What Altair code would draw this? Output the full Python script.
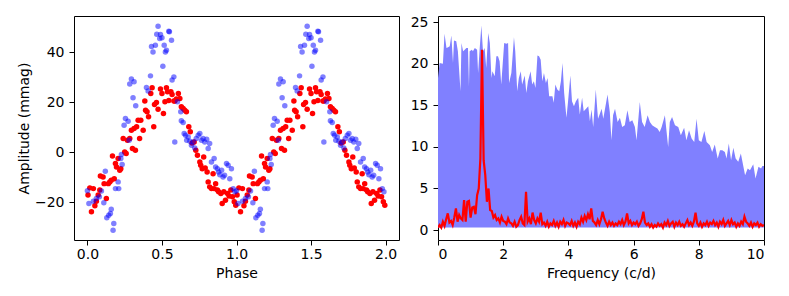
import altair as alt
import pandas as pd

# ---------- left panel: phase-folded light curve (one cycle, repeated) ----------
blue_phase = [0.00, 0.01, 0.04, 0.06, 0.08, 0.094, 0.11, 0.12, 0.13, 0.143, 0.154, 0.16, 0.177, 0.172,
              0.188, 0.206, 0.21, 0.224, 0.233, 0.228, 0.246, 0.255, 0.273, 0.28, 0.284, 0.295, 0.313,
              0.306, 0.324, 0.396, 0.407, 0.423, 0.43, 0.44, 0.456, 0.465, 0.474, 0.485, 0.49, 0.50,
              0.506, 0.515, 0.523, 0.53, 0.546, 0.55, 0.564, 0.568, 0.58, 0.586, 0.604, 0.626, 0.63,
              0.642, 0.649, 0.658, 0.666, 0.676, 0.687, 0.698, 0.709, 0.72, 0.73, 0.743, 0.754, 0.765,
              0.776, 0.787, 0.80, 0.81, 0.82, 0.832, 0.85, 0.86, 0.872, 0.88, 0.888, 0.90, 0.91, 0.92,
              0.933, 0.944, 0.955, 0.966, 0.978, 0.989]
blue_amp = [-15.5, -20.6, -19.7, -18.6, -17.9, -15.6, -20.3, -7.6, -26.3, -25.3, -24.6, -22.9, -28.6, -31.3,
            -14.6, -11.9, -14.6, -2.5, -4.9, -0.9, 10.8, 13.5, 12.4, 4.8, 27.3, 29.3, 28.2,
            21.8, 18.6, 25.9, 24.5, 30.6, 42.4, 40.2, 42.9, 47.3, 50.5, 45.6, 47.2, 45.9,
            34.5, 42.9, 40.2, 40.9, 48.5, 48.3, 44.9, 28.9, 30.2, 4.1, 20.2, 16.2, 12.6,
            11.9, 7.5, 6.8, 4.8, 6.1, 4.4, 2.8, 4.1, 1.7, 5.5, 6.8, 7.5, 4.8,
            5.5, 4.1, 5.2, 1.5, 3.5, -3.9, -2.5, -5.9, -6.6, -7.9, -9.0, -7.2, -9.9, -9.2,
            -4.5, -5.2, -10.6, -6.6, -14.6, -15.9]

red_phase = [0.004, 0.016, 0.027, 0.04, 0.05, 0.06, 0.072, 0.083, 0.087, 0.105, 0.112, 0.127, 0.14, 0.15,
             0.16, 0.168, 0.18, 0.188, 0.195, 0.206, 0.217, 0.224, 0.24, 0.25, 0.26, 0.268, 0.284, 0.295,
             0.302, 0.313, 0.322, 0.33, 0.34, 0.35, 0.358, 0.374, 0.385, 0.39, 0.40, 0.41, 0.425, 0.434,
             0.445, 0.45, 0.463, 0.474, 0.49, 0.50, 0.51, 0.52, 0.53, 0.537, 0.546, 0.56, 0.568, 0.58,
             0.586, 0.597, 0.61, 0.62, 0.63, 0.642, 0.653, 0.664, 0.68, 0.69, 0.702, 0.716, 0.727, 0.738,
             0.754, 0.76, 0.77, 0.78, 0.79, 0.803, 0.81, 0.82, 0.832, 0.843, 0.85, 0.86, 0.872, 0.88,
             0.895, 0.904, 0.915, 0.926, 0.94, 0.95, 0.962, 0.973, 0.985, 0.995]
red_amp = [-17.2, -14.3, -23.9, -14.6, -21.5, -19.7, -17.2, -15.2, -9.5, -9.9, -12.6, -18.6, -12.6, -11.9,
           -11.2, -1.5, -10.6, -4.5, -5.9, -2.5, -7.2, -6.6, 5.5, 0.1, -0.5, 4.8, 5.5, 8.8,
           1.5, 9.5, 0.8, 10.2, 12.8, 5.5, 12.8, 8.8, 20.5, 16.8, 16.2, 14.2, 23.5, 25.8,
           10.2, 19.1, 19.9, 17.2, 25.3, 23.5, 15.5, 20.2, 25.8, 24.2, 20.7, 24.2, 23.1, 20.5,
           20.5, 21.3, 23.5, 21.5, 18.2, 17.5, 16.8, 16.2, 10.2, 8.2, 3.7, 4.1, 0.8, -1.2,
           -3.9, -5.2, -6.6, -1.9, -6.3, -7.9, -11.9, -13.9, -14.6, -8.6, -14.6, -12.6, -15.2, -15.9,
           -16.6, -20.6, -15.9, -19.3, -16.6, -17.6, -15.2, -17.9, -19.9, -21.3]

# ---------- right panel: periodograms ----------
blue_freq = [0.00, 0.05, 0.15, 0.20, 0.26, 0.31, 0.36, 0.41, 0.46, 0.49, 0.56, 0.61, 0.63, 0.69, 0.72, 0.77,
             0.82, 0.87, 0.92, 0.95, 0.97, 1.04, 1.07, 1.13, 1.20, 1.23, 1.28, 1.33, 1.38, 1.43, 1.48,
             1.54, 1.59, 1.64, 1.67, 1.74, 1.79, 1.84, 1.89, 1.94, 2.03, 2.10, 2.15, 2.18, 2.25, 2.33,
             2.37, 2.43, 2.48, 2.54, 2.58, 2.66, 2.71, 2.76, 2.84, 2.89, 2.94, 2.99, 3.05, 3.10, 3.15,
             3.20, 3.25, 3.31, 3.36, 3.41, 3.46, 3.51, 3.55, 3.60, 3.66, 3.72, 3.77, 3.82, 3.87, 3.94,
             3.99, 4.06, 4.11, 4.17, 4.23, 4.30, 4.35, 4.42, 4.47, 4.52, 4.61, 4.66, 4.71, 4.76, 4.84,
             4.89,
             4.91, 5.02, 5.07, 5.20, 5.27, 5.32, 5.37, 5.43, 5.51, 5.58, 5.65, 5.73, 5.81, 5.88, 5.96,
             6.04, 6.09, 6.19, 6.26, 6.34, 6.43, 6.50, 6.57, 6.65, 6.73, 6.80, 6.86, 6.96, 7.06, 7.11,
             7.18, 7.27, 7.37, 7.45, 7.55, 7.62, 7.70, 7.78, 7.86, 7.93, 8.00, 8.08, 8.17, 8.24, 8.34,
             8.41, 8.49, 8.58, 8.65, 8.72, 8.80, 8.85, 8.92, 8.99, 9.06, 9.13, 9.21, 9.29, 9.36, 9.42,
             9.50, 9.57, 9.67, 9.74, 9.83, 9.91, 9.95, 10.0]
blue_pow = [18.3, 20.1, 20.0, 23.6, 21.9, 22.0, 22.1, 23.4, 20.1, 22.8, 22.7, 21.5, 20.3, 16.7, 22.5, 21.5,
            21.7, 21.9, 21.9, 17.3, 21.5, 21.7, 21.5, 21.9, 21.7, 18.9, 21.9, 24.6, 21.5, 21.9, 19.5,
            23.7, 22.5, 18.3, 19.1, 18.5, 20.9, 20.9, 20.3, 17.5, 22.5, 22.4, 22.5, 17.7, 18.9, 23.2,
            21.5, 16.7, 18.3, 19.1, 17.5, 18.6, 16.5, 17.9, 19.1, 17.5, 17.9, 17.1, 21.0, 20.9, 20.5,
            17.9, 18.9, 17.7, 18.3, 16.1, 16.1, 16.1, 15.3, 17.5, 16.9, 16.7, 17.9, 20.1, 16.5, 13.5,
            15.5, 18.6, 15.5, 14.9, 15.5, 15.9, 13.9, 15.9, 14.3, 14.5, 14.9, 13.1, 14.5, 12.4, 16.9,
            14.3,
            13.4, 14.6, 13.4, 16.3, 14.2, 10.8, 13.8, 14.6, 13.0, 13.5, 12.4, 12.6, 14.4, 13.0, 13.2,
            12.4, 10.8, 15.4, 13.0, 12.4, 13.8, 13.0, 12.6, 12.4, 12.2, 11.8, 12.4, 13.8, 10.0, 13.0,
            13.6, 12.6, 12.4, 11.4, 12.3, 10.8, 12.0, 11.0, 10.6, 13.4, 10.8, 10.6, 11.9, 10.6, 10.2,
            9.4, 10.3, 8.6, 9.6, 9.6, 9.4, 8.6, 10.4, 8.4, 9.9, 8.6, 8.2, 9.2, 7.8, 6.6,
            7.4, 7.2, 7.9, 6.2, 7.6, 7.4, 7.7, 7.7]

red_pow = [0.3, 0.6, 0.3, 1.0, 0.5, 1.3, 2.0, 0.9, 1.1, 0.6, 1.5, 2.6, 1.0, 1.8, 1.4, 1.2, 3.6, 1.0, 3.4, 3.5,
           1.5, 2.7, 2.8, 1.9, 4.2, 5.0, 8.6, 21.7, 8.4, 6.6, 3.4, 5.0, 2.4, 2.3, 1.5, 1.8, 1.2, 1.4, 0.9, 1.6,
           1.1, 1.0, 0.7, 1.4, 0.9, 0.8, 0.5, 1.0, 0.4, 0.6, 1.2, 1.6, 0.8, 0.6, 4.6, 1.0, 1.4, 0.7, 2.1, 1.2,
           0.8, 1.4, 1.0, 2.1, 0.7, 0.9, 0.5, 1.0, 0.4, 0.8, 0.6, 1.1, 0.5, 0.9, 0.4, 1.0, 0.7, 1.2, 0.5, 0.9,
           0.8, 0.6, 1.1, 0.5, 0.9, 0.4, 1.0, 0.7, 1.5, 1.0, 1.7, 1.2, 1.9, 1.3, 2.6, 1.1, 0.9, 0.6, 1.2, 0.7,
           1.3, 2.2, 1.4, 0.9, 0.5, 1.0, 0.6, 0.9, 0.5, 0.8, 0.6, 1.0, 0.7, 1.2, 0.6, 1.0, 2.0, 0.8, 1.1, 0.6,
           0.9, 0.7, 1.0, 0.5, 0.8, 1.3, 2.2, 0.9, 0.6, 0.8, 0.4, 0.7, 0.3, 0.6, 0.4, 0.8, 0.5, 0.7, 0.3, 0.9,
           0.6, 1.1, 0.5, 0.8, 1.0, 0.4, 0.9, 0.6, 1.0, 0.5, 0.7, 0.4, 0.8, 1.2, 0.6, 0.9, 0.5, 1.0, 2.1, 0.8,
           0.5, 0.9, 0.4, 0.8, 0.6, 1.0, 0.5, 0.9, 0.7, 1.1, 0.6, 0.9, 0.4, 1.0, 0.7, 1.2, 0.5, 0.8, 1.1, 0.6,
           1.2, 0.7, 0.9, 0.4, 0.8, 0.5, 1.0, 0.7, 1.6, 1.0, 0.8, 0.5, 0.9, 0.4, 0.8, 0.6, 0.9, 0.4, 0.7, 0.5,
           0.6]
red_freq = [round(i * 0.05, 2) for i in range(len(red_pow))]

FONT = "DejaVu Sans"

blue_df = pd.DataFrame({"phase": blue_phase + [p + 1 for p in blue_phase],
                        "amp": blue_amp + blue_amp})
red_df = pd.DataFrame({"phase": red_phase + [p + 1 for p in red_phase],
                       "amp": red_amp + red_amp})

xs_l = alt.Scale(domain=[-0.09, 2.09], nice=False, zero=False)
ys_l = alt.Scale(domain=[-35.2, 54.6], nice=False, zero=False)
x_l = alt.X("phase:Q", scale=xs_l,
            axis=alt.Axis(title="Phase", values=[0, 0.5, 1.0, 1.5, 2.0], format=".1f"))
y_l = alt.Y("amp:Q", scale=ys_l,
            axis=alt.Axis(title="Amplitude (mmag)", values=[-20, 0, 20, 40], titlePadding=3))

red_pts = alt.Chart(red_df).mark_circle(size=30, color="red", opacity=1).encode(x=x_l, y=y_l)
blue_pts = alt.Chart(blue_df).mark_circle(size=30, color="blue", opacity=0.5).encode(x=x_l, y=y_l)
left = alt.layer(red_pts, blue_pts).properties(width=325, height=224)

bdf = pd.DataFrame({"f": blue_freq, "p": blue_pow})
rdf = pd.DataFrame({"f": red_freq, "p": red_pow})
xs_r = alt.Scale(domain=[0, 10], nice=False, zero=False)
ys_r = alt.Scale(domain=[-1.2, 25.75], nice=False, zero=False)
x_r = alt.X("f:Q", scale=xs_r,
            axis=alt.Axis(title="Frequency (c/d)", values=[0, 2, 4, 6, 8, 10]))
y_r = alt.Y("p:Q", scale=ys_r, axis=alt.Axis(title=None, values=[0, 5, 10, 15, 20, 25]))

blue_area = alt.Chart(bdf).mark_area(color="#8080ff", opacity=1, clip=True).encode(
    x=x_r, y=y_r, y2=alt.datum(0.3))
red_line = alt.Chart(rdf).mark_line(color="red", strokeWidth=2.2, clip=True).encode(x=x_r, y=y_r)
right = alt.layer(blue_area, red_line).properties(width=326, height=224)

chart = alt.hconcat(left, right, spacing=9).properties(
    padding={"left": 8, "top": 6, "right": 5, "bottom": 5}
).configure_view(stroke="black", strokeWidth=1).configure_axis(
    grid=False, domain=False, tickColor="black", tickSize=5, tickWidth=1,
    labelFont=FONT, titleFont=FONT, labelFontSize=14, titleFontSize=14,
    labelColor="black", titleColor="black", titleFontWeight="normal"
).configure_axisX(labelPadding=2, titlePadding=5).configure_axisY(labelPadding=5)

chart.save("out.html", embed_options={"renderer": "svg", "actions": False})
